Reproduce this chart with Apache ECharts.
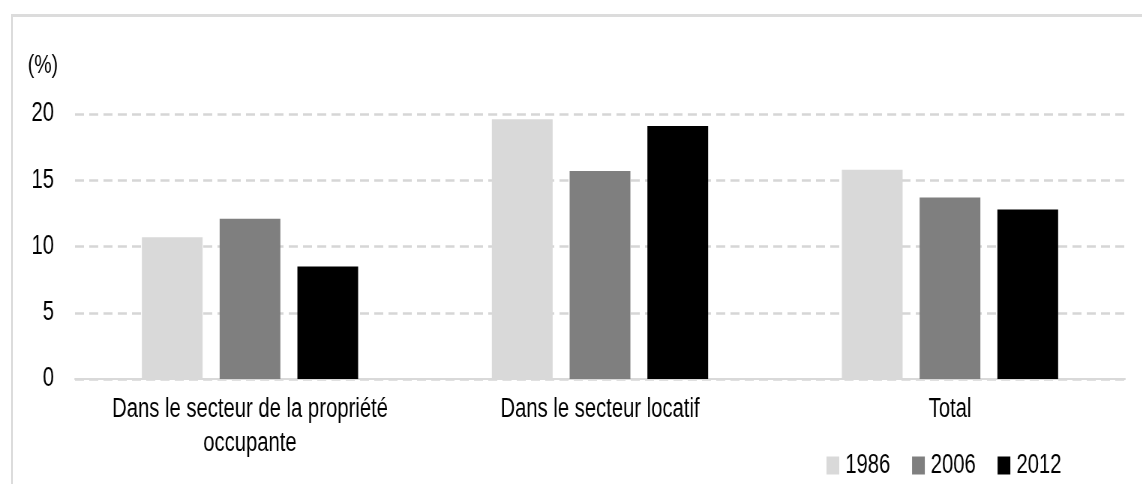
<!DOCTYPE html>
<html>
<head>
<meta charset="utf-8">
<title>Taux d'effort</title>
<script src="https://cdn.jsdelivr.net/npm/echarts@6/dist/echarts.min.js"></script>
<style>
  html, body { margin: 0; padding: 0; background: #fff; overflow: hidden; }
  #frame {
    position: absolute; left: 11px; top: 14px; right: 0; bottom: 0;
    border-top: 3px solid #dcdcdc; border-left: 2px solid #dcdcdc;
  }
  /* the chart is laid out wide, then condensed horizontally (narrow lettering) */
  #chart {
    position: absolute; left: 0; top: 0;
    width: 1523px; height: 484px;
    transform: scaleX(0.75); transform-origin: 0 0;
  }
</style>
</head>
<body>
<div id="frame"></div>
<div id="chart"></div>
<script>
const categories = [
  'Dans le secteur de la propriété\noccupante',
  'Dans le secteur locatif',
  'Total'
];
const seriesNames = ['1986', '2006', '2012'];
const values1986 = [10.7, 19.6, 15.8];
const values2006 = [12.1, 15.7, 13.7];
const values2012 = [8.5, 19.1, 12.8];
const yTicks = [0, 5, 10, 15, 20];
const unitLabel = '(%)';

const colors = ['#d9d9d9', '#7f7f7f', '#000000'];
const font = 'Liberation Sans, Arial, sans-serif';
const ink = '#000';
const seriesValues = [values1986, values2006, values2012];

const chart = echarts.init(document.getElementById('chart'), null, { renderer: 'canvas' });

chart.setOption({
  animation: false,
  textStyle: { fontFamily: font, color: ink },
  grid: { left: 100, right: 23, top: 114, bottom: 105, containLabel: false },
  legend: {
    data: seriesNames,
    left: 1097,
    top: 447,
    itemWidth: 17,
    itemHeight: 18,
    itemGap: 29,
    icon: 'rect',
    textStyle: { fontFamily: font, fontSize: 27, color: ink, padding: [0, 0, 0, 3] }
  },
  xAxis: {
    type: 'category',
    data: categories,
    axisLine: { show: true, lineStyle: { color: '#d9d9d9', width: 2 } },
    axisTick: { show: false },
    axisLabel: {
      fontFamily: font, fontSize: 27, color: ink,
      lineHeight: 34, margin: 14, interval: 0
    },
    splitLine: { show: false }
  },
  yAxis: {
    type: 'value',
    min: yTicks[0],
    max: yTicks[yTicks.length - 1],
    interval: yTicks[1] - yTicks[0],
    axisLine: { show: false },
    axisTick: { show: false },
    axisLabel: { fontFamily: font, fontSize: 27, color: ink, margin: 28 },
    splitLine: { lineStyle: { color: '#d6d6d6', width: 2.5, type: [12, 7] } }
  },
  graphic: [{
    type: 'text',
    left: 37,
    top: 53,
    style: { text: unitLabel, fontFamily: font, fontSize: 26, fill: ink }
  }],
  series: seriesNames.map((name, i) => ({
    name: name,
    type: 'bar',
    data: seriesValues[i],
    barWidth: 81,
    barGap: '28%',
    itemStyle: { color: colors[i] }
  }))
});
</script>
</body>
</html>
